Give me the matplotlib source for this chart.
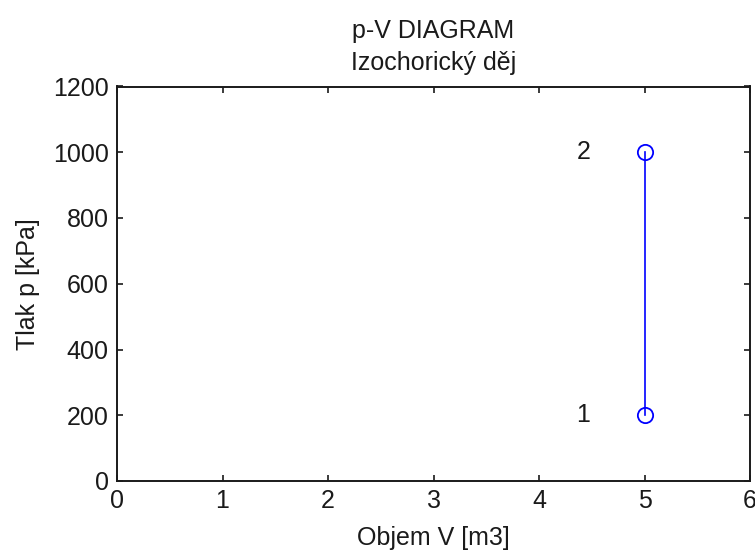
import matplotlib
matplotlib.use("Agg")
import matplotlib.pyplot as plt

volume = [5, 5]
pressure = [200, 1000]
point_labels = ["1", "2"]
label_x = 4.42
xticks = [0, 1, 2, 3, 4, 5, 6]
yticks = [0, 200, 400, 600, 800, 1000, 1200]

plt.rcParams['font.family'] = ['Liberation Sans', 'DejaVu Sans']
fs = 18
tc = '#1a1a1a'

fig = plt.figure(figsize=(7.55, 5.52), dpi=100)
ax = fig.add_axes([117/755, 71/552, (750-117)/755, (481-86.5)/552])

ax.plot(volume, pressure, color=(0, 0, 1), lw=1.2, marker='o', ms=11,
        mfc='none', mec=(0, 0, 1), mew=1.3)
for v, p, t in zip(volume, pressure, point_labels):
    ax.text(label_x, p, t, ha='center', va='center', fontsize=fs, color=tc)

ax.set_xlim(0, 6)
ax.set_ylim(0, 1200)
ax.set_xticks(xticks)
ax.set_yticks(yticks)
ax.tick_params(direction='in', length=4.5, width=1.2, top=True, right=True,
               labelsize=fs, colors=tc, pad=6)
for s in ax.spines.values():
    s.set_linewidth(1.4)
    s.set_color(tc)

ax.set_title("p-V DIAGRAM\nIzochorický děj", fontsize=fs, color=tc,
             pad=12, linespacing=1.4)
ax.set_xlabel("Objem V [m3]", fontsize=fs, color=tc, labelpad=9)
ax.set_ylabel("Tlak p [kPa]", fontsize=fs, color=tc, labelpad=9)

fig.savefig("out.png", dpi=100)
